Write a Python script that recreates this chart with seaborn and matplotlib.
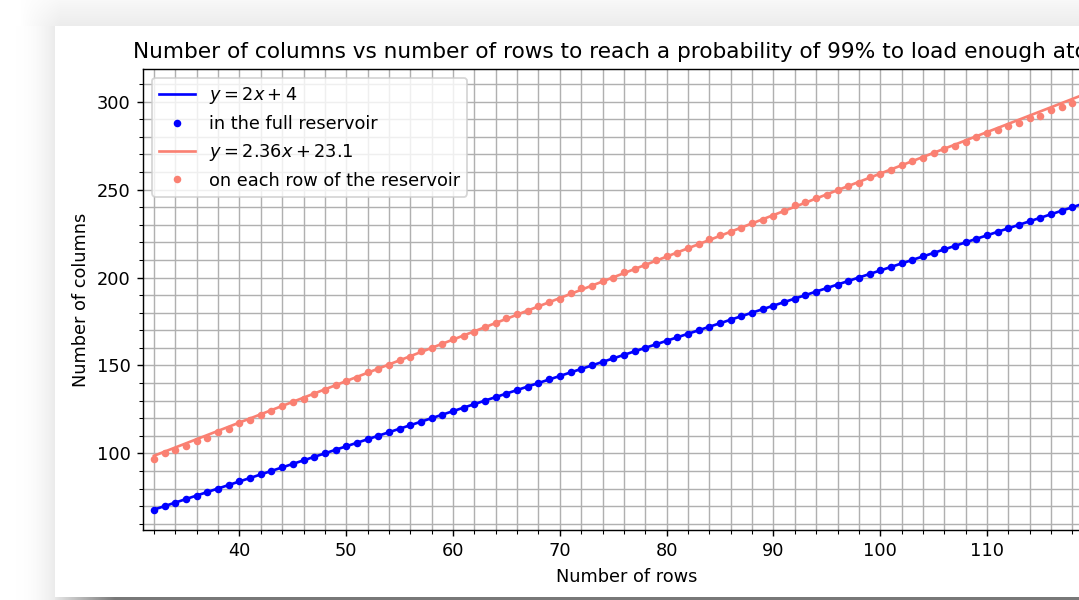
import numpy as np
import pandas as pd
import matplotlib
matplotlib.use("Agg")
import matplotlib.pyplot as plt
from matplotlib.ticker import MultipleLocator, FixedLocator
import seaborn as sns

# ---------------- data ----------------
rows = list(range(32, 121))
cols_full = [68, 70, 72, 74, 76, 78, 80, 82, 84, 86, 88, 90, 92, 94, 96, 98, 100, 102, 104, 106,
             108, 110, 112, 114, 116, 118, 120, 122, 124, 126, 128, 130, 132, 134, 136, 138, 140,
             142, 144, 146, 148, 150, 152, 154, 156, 158, 160, 162, 164, 166, 168, 170, 172, 174,
             176, 178, 180, 182, 184, 186, 188, 190, 192, 194, 196, 198, 200, 202, 204, 206, 208,
             210, 212, 214, 216, 218, 220, 222, 224, 226, 228, 230, 232, 234, 236, 238, 240, 242, 244]
cols_row = [97, 100, 102, 104, 107, 109, 112, 114, 117, 119, 122, 124, 127, 129, 131, 134, 136,
            139, 141, 143, 146, 148, 150, 153, 155, 158, 160, 162, 165, 167, 169, 172, 174, 177,
            179, 181, 184, 186, 188, 191, 194, 195, 198, 200, 203, 205, 207, 210, 212, 214, 217,
            219, 222, 224, 226, 228, 231, 233, 235, 238, 241, 243, 245, 247, 250, 252, 254, 257,
            259, 261, 264, 266, 268, 271, 273, 275, 277, 280, 282, 284, 286, 288, 291, 292, 295,
            297, 299, 301, 303]
fit_full = (2.0, 4.0)
fit_row = (2.36, 23.1)
label_fit_full = r"$y = 2x + 4$"
label_full = "in the full reservoir"
label_fit_row = r"$y = 2.36x + 23.1$"
label_row = "on each row of the reservoir"
title = "Number of columns vs number of rows to reach a probability of 99% to load enough atoms"
xlabel = "Number of rows"
ylabel = "Number of columns"
xtick_major = [40, 50, 60, 70, 80, 90, 100, 110]

# ---------------- figure ----------------
W, H, DPI = 1079, 600, 128
fig = plt.figure(figsize=(W / DPI, H / DPI), dpi=DPI)
fig.patch.set_facecolor("white")

# background "card" with shadow (screenshot frame)
bg = np.full((H, W), 255.0)
xs = np.arange(W)
card_l, card_t, card_b = 55, 26, 597
for y in range(card_t):
    v = 248 - 12 * (y / card_t)
    fade = np.clip((xs - 20) / 40.0, 0, 1)
    bg[y, :] = 255 - (255 - v) * fade
for x in range(card_l):
    t = np.clip((x - 15) / (card_l - 15), 0, 1)
    v = 255 - 20 * t ** 2
    bg[card_t:, x] = np.minimum(bg[card_t:, x], v)
fadeb = np.clip((xs - card_l) / 60.0, 0, 1)
for y in range(card_b, H):
    bg[y, card_l:] = (230 - 110 * fadeb)[card_l:]
bgax = fig.add_axes([0, 0, 1, 1], zorder=-5)
bgax.imshow(np.dstack([bg, bg, bg]).astype(np.uint8), aspect="auto", interpolation="nearest")
bgax.axis("off")

# main axes (extends past the right edge like the cropped screenshot)
x0_px, x1_px, top_px, bot_px = 143.3, 1110.0, 69, 530
px_per_unit = 10.68
ax = fig.add_axes([x0_px / W, 1 - bot_px / H, (x1_px - x0_px) / W, (bot_px - top_px) / H])
ax.set_facecolor("white")

xr = np.array([rows[0], rows[-1]])
df_full = pd.DataFrame({"x": rows, "y": cols_full})
df_row = pd.DataFrame({"x": rows, "y": cols_row})
df_fit_full = pd.DataFrame({"x": xr, "y": fit_full[0] * xr + fit_full[1]})
df_fit_row = pd.DataFrame({"x": xr, "y": fit_row[0] * xr + fit_row[1]})

sns.lineplot(data=df_fit_full, x="x", y="y", ax=ax, color="blue", linewidth=1.5,
             label=label_fit_full)
sns.lineplot(data=df_full, x="x", y="y", ax=ax, color="blue", linestyle="", marker=".",
             markersize=6.5, markeredgecolor="blue", markeredgewidth=1.0, label=label_full)
sns.lineplot(data=df_fit_row, x="x", y="y", ax=ax, color="salmon", linewidth=1.5,
             label=label_fit_row)
sns.lineplot(data=df_row, x="x", y="y", ax=ax, color="salmon", linestyle="", marker=".",
             markersize=6.5, markeredgecolor="salmon", markeredgewidth=1.0, label=label_row)

ax.set_xlim(31.0, 31.0 + (x1_px - x0_px) / px_per_unit)
ax.set_ylim(56.4, 318.6)
ax.xaxis.set_major_locator(FixedLocator(xtick_major))
ax.xaxis.set_minor_locator(MultipleLocator(2))
ax.yaxis.set_major_locator(MultipleLocator(50))
ax.yaxis.set_minor_locator(MultipleLocator(10))
ax.grid(which="both", color="#b0b0b0", linewidth=0.8)
ax.set_axisbelow(True)
ax.set_xlabel(xlabel)
ax.set_ylabel(ylabel)
ax.set_title(title, fontsize=12.15)
ax.legend(loc="upper left")

fig.savefig("out.png", dpi=DPI)
